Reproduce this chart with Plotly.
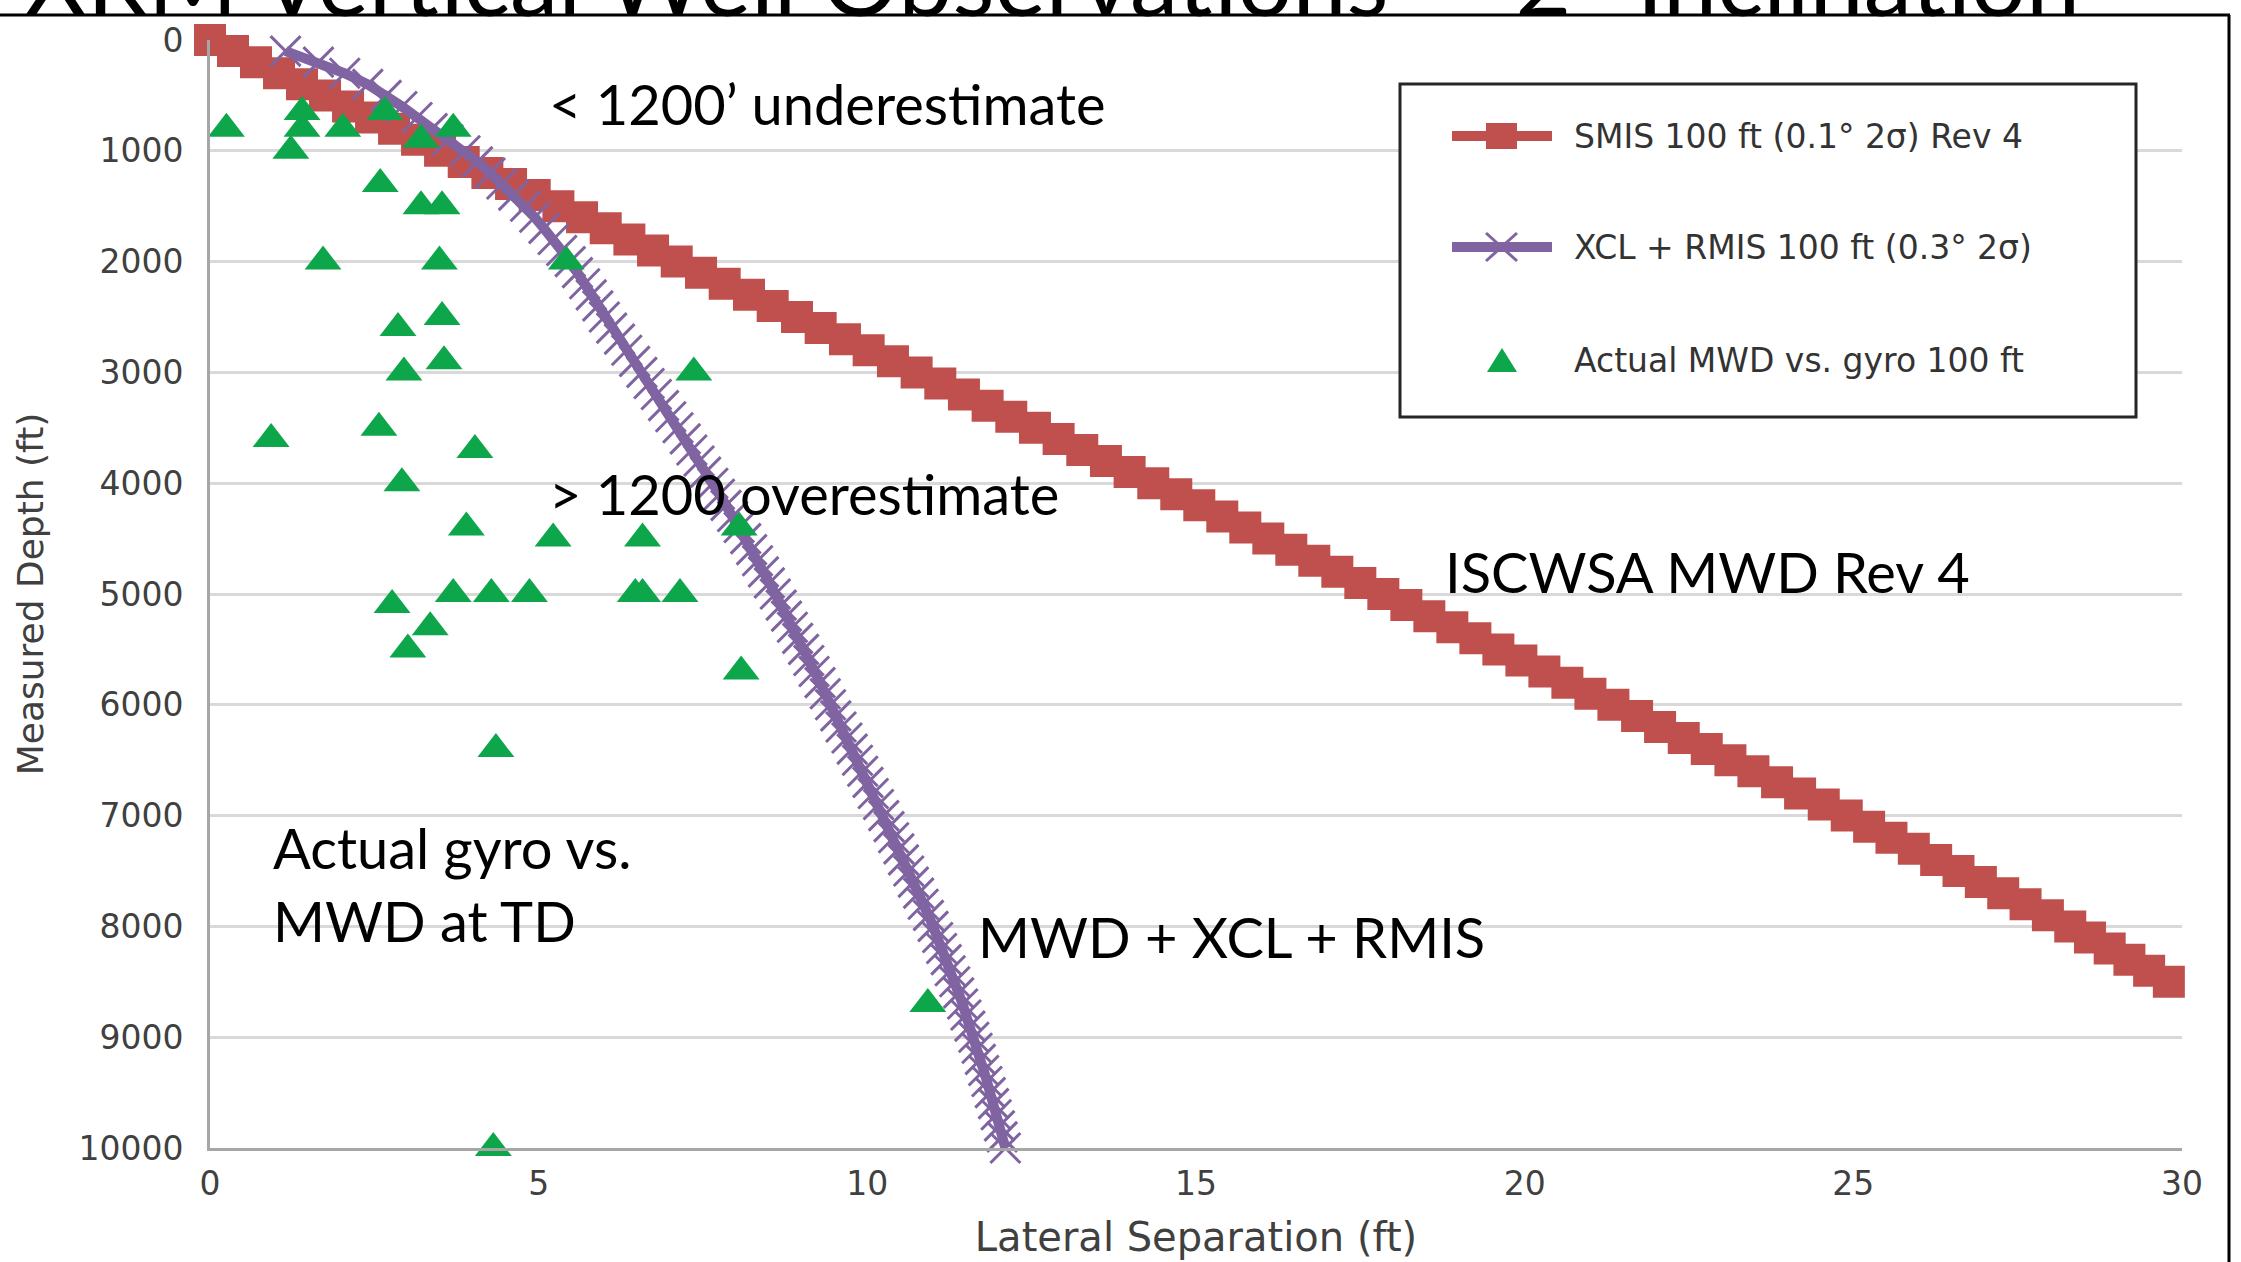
import plotly.graph_objects as go

# ---------------- data ----------------
smis_depth = [0, 100, 200, 300, 400, 500, 600, 700, 800, 900,
              1000, 1100, 1200, 1300, 1400, 1500, 1600, 1700, 1800, 1900,
              2000, 2100, 2200, 2300, 2400, 2500, 2600, 2700, 2800, 2900,
              3000, 3100, 3200, 3300, 3400, 3500, 3600, 3700, 3800, 3900,
              4000, 4100, 4200, 4300, 4400, 4500, 4600, 4700, 4800, 4900,
              5000, 5100, 5200, 5300, 5400, 5500, 5600, 5700, 5800, 5900,
              6000, 6100, 6200, 6300, 6400, 6500, 6600, 6700, 6800, 6900,
              7000, 7100, 7200, 7300, 7400, 7500, 7600, 7700, 7800, 7900,
              8000, 8100, 8200, 8300, 8400, 8500, 8600]
smis_sep = [0.00, 0.35, 0.70, 1.05, 1.40, 1.75, 2.10, 2.45, 2.80, 3.15,
            3.50, 3.86, 4.22, 4.58, 4.94, 5.30, 5.66, 6.02, 6.38, 6.74,
            7.10, 7.47, 7.83, 8.20, 8.56, 8.93, 9.29, 9.66, 10.02, 10.39,
            10.75, 11.11, 11.47, 11.83, 12.19, 12.55, 12.91, 13.27, 13.63, 13.99,
            14.35, 14.70, 15.05, 15.40, 15.75, 16.10, 16.45, 16.80, 17.15, 17.50,
            17.85, 18.20, 18.55, 18.90, 19.25, 19.60, 19.95, 20.30, 20.65, 21.00,
            21.35, 21.71, 22.06, 22.42, 22.77, 23.13, 23.48, 23.84, 24.19, 24.55,
            24.90, 25.24, 25.58, 25.92, 26.26, 26.60, 26.94, 27.28, 27.62, 27.96,
            28.30, 28.60, 28.90, 29.20, 29.50, 29.80, 30.12]

xcl_depth = [100, 200, 300, 400, 500, 600, 700, 800, 900, 1000,
             1100, 1200, 1300, 1400, 1500, 1600, 1700, 1800, 1900, 2000,
             2100, 2200, 2300, 2400, 2500, 2600, 2700, 2800, 2900, 3000,
             3100, 3200, 3300, 3400, 3500, 3600, 3700, 3800, 3900, 4000,
             4100, 4200, 4300, 4400, 4500, 4600, 4700, 4800, 4900, 5000,
             5100, 5200, 5300, 5400, 5500, 5600, 5700, 5800, 5900, 6000,
             6100, 6200, 6300, 6400, 6500, 6600, 6700, 6800, 6900, 7000,
             7100, 7200, 7300, 7400, 7500, 7600, 7700, 7800, 7900, 8000,
             8100, 8200, 8300, 8400, 8500, 8600, 8700, 8800, 8900, 9000,
             9100, 9200, 9300, 9400, 9500, 9600, 9700, 9800, 9900, 10000]
xcl_sep = [1.15, 1.65, 2.05, 2.40, 2.68, 2.92, 3.15, 3.38, 3.62, 3.88,
           4.07, 4.26, 4.44, 4.62, 4.80, 4.94, 5.08, 5.22, 5.35, 5.48,
           5.59, 5.70, 5.80, 5.90, 6.00, 6.11, 6.23, 6.34, 6.46, 6.57,
           6.68, 6.79, 6.90, 7.01, 7.12, 7.23, 7.33, 7.44, 7.54, 7.65,
           7.75, 7.85, 7.95, 8.05, 8.15, 8.24, 8.33, 8.42, 8.51, 8.60,
           8.69, 8.77, 8.86, 8.94, 9.03, 9.11, 9.19, 9.28, 9.36, 9.44,
           9.52, 9.60, 9.69, 9.77, 9.85, 9.93, 10.01, 10.09, 10.17, 10.25,
           10.33, 10.40, 10.48, 10.55, 10.63, 10.70, 10.78, 10.85, 10.93, 11.00,
           11.07, 11.13, 11.20, 11.26, 11.33, 11.39, 11.45, 11.50, 11.56, 11.62,
           11.67, 11.72, 11.77, 11.82, 11.87, 11.92, 11.96, 12.01, 12.05, 12.10]

mwd_sep = [0.25, 1.40, 1.40, 1.23, 2.02, 2.66, 3.21, 3.70, 2.59, 3.21,
           3.53, 1.72, 3.49, 5.42, 2.86, 3.53, 2.95, 3.56, 7.36, 2.57,
           0.93, 4.03, 2.92, 3.90, 5.22, 6.58, 8.05, 2.77, 3.70, 4.28,
           4.86, 6.47, 6.58, 7.15, 3.35, 3.01, 8.08, 4.35, 10.92, 4.31]
mwd_depth = [800, 650, 800, 1000, 800, 650, 900, 800, 1300, 1500,
             1500, 2000, 2000, 2000, 2600, 2500, 3000, 2900, 3000, 3500,
             3600, 3700, 4000, 4400, 4500, 4500, 4400, 5100, 5000, 5000,
             5000, 5000, 5000, 5000, 5300, 5500, 5700, 6400, 8700, 10000]

x_ticks = [0, 5, 10, 15, 20, 25, 30]
x_ticktext = ["0", "5", "10", "15", "20", "25", "30"]
y_ticks = [0, 1000, 2000, 3000, 4000, 5000, 6000, 7000, 8000, 9000, 10000]
y_ticktext = ["0", "1000", "2000", "3000", "4000", "5000", "6000", "7000",
              "8000", "9000", "10000"]

names = ["SMIS 100 ft (0.1° 2σ) Rev 4",
         "XCL + RMIS 100 ft (0.3° 2σ)",
         "Actual MWD vs. gyro 100 ft"]

# ---------------- styling / layout ----------------
W, H = 2241, 1262
ML, MR, MT, MB = 210, 59, 40, 114
PW, PH = W - ML - MR, H - MT - MB

def px(x):
    return (x - ML) / PW

def py(y):
    return (H - MB - y) / PH

RED = "#C0504D"
PURPLE = "#8064A2"
GREEN = "#0EA64B"
AXFONT = "DejaVu Sans"
TXTFONT = "Lato"

fig = go.Figure()

fig.add_trace(go.Scatter(
    x=smis_sep, y=smis_depth, mode="lines+markers", name=names[0],
    line=dict(color=RED, width=9),
    marker=dict(symbol="square", color=RED, opacity=1,
                line=dict(width=0),
                size=[32 if v <= 30 else 0 for v in smis_sep]),
    cliponaxis=False))

fig.add_trace(go.Scatter(
    x=xcl_sep, y=xcl_depth, mode="lines+markers", name=names[1],
    line=dict(color=PURPLE, width=10),
    marker=dict(symbol="x-thin", size=30, opacity=1,
                line=dict(color=PURPLE, width=3)),
    cliponaxis=False))

fig.add_trace(go.Scatter(
    x=mwd_sep, y=mwd_depth, mode="markers", name=names[2],
    marker=dict(symbol="triangle-up", size=32, color=GREEN, opacity=1,
                line=dict(width=0)),
    cliponaxis=False))

fig.update_layout(
    width=W, height=H,
    margin=dict(l=ML, r=MR, t=MT, b=MB, autoexpand=False),
    paper_bgcolor="white", plot_bgcolor="white",
    showlegend=False,
    xaxis=dict(range=[0, 30], tickvals=x_ticks, ticktext=x_ticktext,
               showgrid=False, zeroline=False,
               showline=True, linecolor="#A6A6A6", linewidth=3, ticks="",
               tickfont=dict(family=AXFONT, size=33, color="#404040"),
               ticklabelstandoff=4,
               title=dict(text="Lateral Separation (ft)", standoff=22,
                          font=dict(family=AXFONT, size=40, color="#404040"))),
    yaxis=dict(range=[10000, 0], tickvals=y_ticks, ticktext=y_ticktext,
               showgrid=True,
               gridcolor="#D9D9D9", gridwidth=3, zeroline=False,
               showline=True, linecolor="#A6A6A6", linewidth=3, ticks="",
               tickfont=dict(family=AXFONT, size=33, color="#404040"),
               ticklabelstandoff=17,
               title=dict(text="Measured Depth (ft)", standoff=24,
                          font=dict(family=AXFONT, size=36, color="#404040"))),
)

# ---------------- text annotations inside the plot ----------------
notes = [
    ("< 1200’ underestimate", 5.13, 570),
    ("> 1200 overestimate", 5.13, 4090),
    ("ISCWSA MWD Rev 4", 18.76, 4800),
    ("Actual gyro vs.<br>MWD at TD", 0.93, 7620),
    ("MWD + XCL + RMIS", 11.65, 8090),
]
for t, xv, yv in notes:
    fig.add_annotation(text=t, x=xv, y=yv, xref="x", yref="y",
                       xanchor="left", yanchor="middle", align="left",
                       showarrow=False,
                       font=dict(family=TXTFONT, size=56, color="black"))

# ---------------- hand-made legend box ----------------
shapes = []
shapes.append(dict(type="rect", xref="paper", yref="paper",
                   x0=px(1400), x1=px(2136), y0=py(417), y1=py(84),
                   line=dict(color="#262626", width=3), fillcolor="white",
                   layer="above"))
rows = [136, 247, 360]
# red line + square
shapes.append(dict(type="line", xref="paper", yref="paper",
                   x0=px(1452), x1=px(1552), y0=py(rows[0]), y1=py(rows[0]),
                   line=dict(color=RED, width=10), layer="above"))
shapes.append(dict(type="rect", xref="paper", yref="paper",
                   x0=px(1486), x1=px(1517), y0=py(rows[0] + 13), y1=py(rows[0] - 13),
                   line=dict(width=0), fillcolor=RED, layer="above"))
# purple line + cross
shapes.append(dict(type="line", xref="paper", yref="paper",
                   x0=px(1452), x1=px(1552), y0=py(rows[1]), y1=py(rows[1]),
                   line=dict(color=PURPLE, width=10), layer="above"))
shapes.append(dict(type="line", xref="paper", yref="paper",
                   x0=px(1486), x1=px(1517), y0=py(rows[1] - 14), y1=py(rows[1] + 14),
                   line=dict(color=PURPLE, width=3), layer="above"))
shapes.append(dict(type="line", xref="paper", yref="paper",
                   x0=px(1486), x1=px(1517), y0=py(rows[1] + 14), y1=py(rows[1] - 14),
                   line=dict(color=PURPLE, width=3), layer="above"))
# green triangle
tri = "M {:.5f} {:.5f} L {:.5f} {:.5f} L {:.5f} {:.5f} Z".format(
    px(1487), py(rows[2] + 12), px(1517), py(rows[2] + 12), px(1502), py(rows[2] - 12))
shapes.append(dict(type="path", xref="paper", yref="paper", path=tri,
                   line=dict(width=0), fillcolor=GREEN, layer="above"))

# slide frame lines
shapes.append(dict(type="line", xref="paper", yref="paper",
                   x0=px(-5), x1=px(2230), y0=py(15), y1=py(15),
                   line=dict(color="black", width=3), layer="above"))
shapes.append(dict(type="line", xref="paper", yref="paper",
                   x0=px(2229), x1=px(2229), y0=py(15), y1=py(1270),
                   line=dict(color="black", width=3), layer="above"))
fig.update_layout(shapes=shapes)

for name, yrow in zip(names, rows):
    fig.add_annotation(text=name, x=px(1572), y=py(yrow), xref="paper", yref="paper",
                       xanchor="left", yanchor="middle", showarrow=False,
                       font=dict(family=AXFONT, size=33, color="#333333"))

# slide title, mostly cut off at the top of the picture
fig.add_annotation(text="XRM Vertical Well Observations — 2° Inclination",
                   x=px(22), y=py(-22), xref="paper", yref="paper",
                   xanchor="left", yanchor="middle", showarrow=False,
                   font=dict(family=TXTFONT, size=97, color="black"))

fig.write_html("out.html")
